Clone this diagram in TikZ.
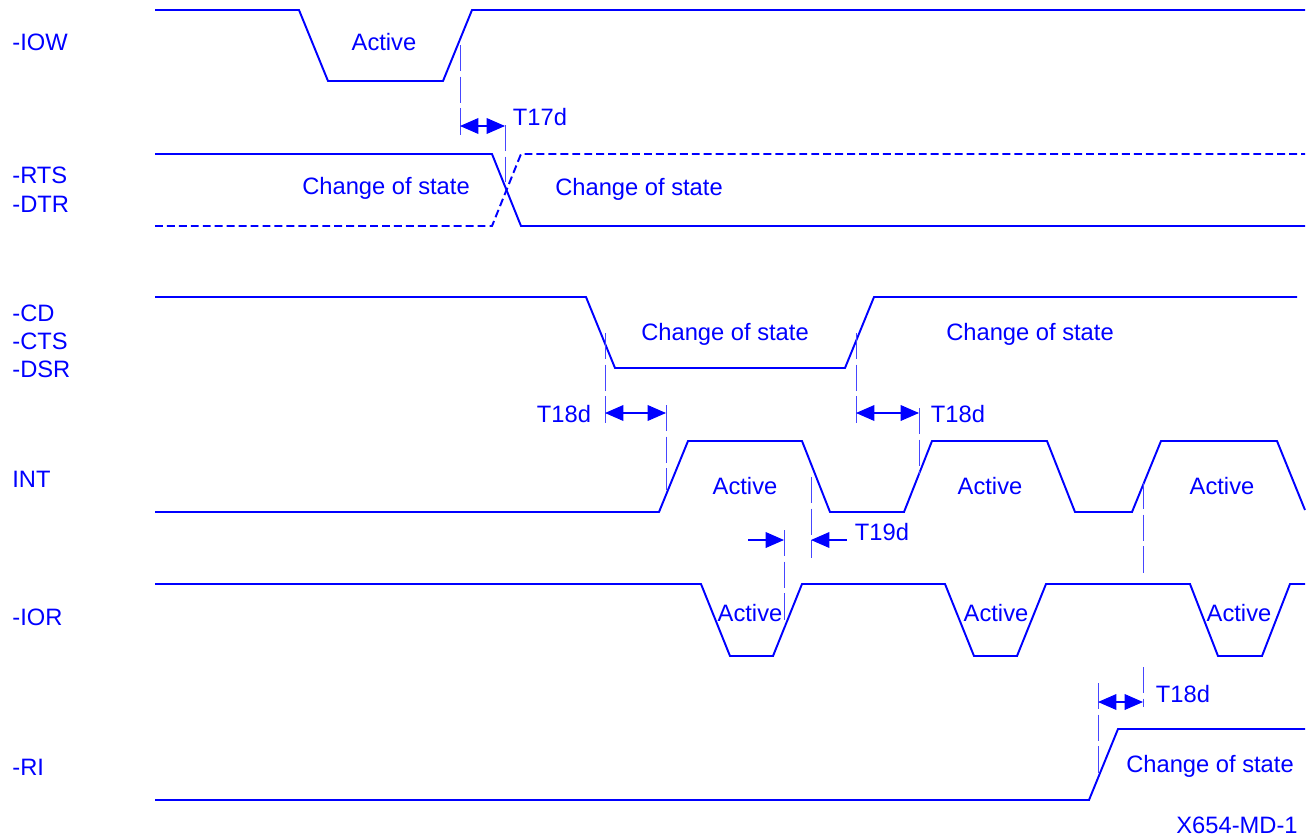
\documentclass[tikz,border=0pt]{standalone}
\usepackage{fontspec}
\setmainfont{Liberation Sans}
\usetikzlibrary{arrows.meta}
\definecolor{wavec}{RGB}{0,0,255}
\definecolor{guidec}{RGB}{70,70,255}
\begin{document}
\begin{tikzpicture}[x=0.02cm,y=-0.02cm,
  wave/.style={draw=wavec,line width=1.1pt,line join=miter},
  wavedash/.style={wave,dash pattern=on 4.5pt off 2.3pt},
  guide/.style={draw=guidec,line width=0.5pt,dash pattern=on 15pt off 3pt},
  dimline/.style={draw=wavec,line width=0.6pt},
  twotip/.style={dimline,{Triangle[length=10.5pt,width=9pt]}-{Triangle[length=10.5pt,width=9pt]}},
  onetip/.style={dimline,-{Triangle[length=10.5pt,width=9pt]}},
  lbl/.style={text=wavec,font=\fontsize{13.5}{16}\selectfont,inner sep=0pt,anchor=base},
  sname/.style={lbl,anchor=base west}]
\path[fill=white] (0,0) rectangle (1309,839);

% signal names
\node[sname] (nIOW) at (12,50) {-IOW};
\node[sname] (nRTS) at (12,183) {-RTS};
\node[sname] (nDTR) at (12,212) {-DTR};
\node[sname] (nCD) at (12,321) {-CD};
\node[sname] (nCTS) at (12,349) {-CTS};
\node[sname] (nDSR) at (12,377) {-DSR};
\node[sname] (nINT) at (12,487) {INT};
\node[sname] (nIOR) at (12,625) {-IOR};
\node[sname] (nRI) at (12,775) {-RI};

% waveforms
\draw[wave] (155,10) -- (299,10) -- (328,81) -- (443,81) -- (472,10) -- (1305,10);
\draw[wave] (155,154) -- (492,154) -- (521,226) -- (1305,226);
\draw[wavedash] (155,226) -- (492,226) -- (521,154) -- (1305,154);
\draw[wave] (155,297) -- (586,297) -- (615,368) -- (845,368) -- (874,297) -- (1297,297);
\draw[wave] (155,512) -- (659,512) -- (688,441) -- (802,441) -- (830,512) -- (904,512)
  -- (932,441) -- (1047,441) -- (1075,512) -- (1132,512) -- (1161,441) -- (1277,441) -- (1305,510);
\draw[wave] (155,584) -- (701,584) -- (730,656) -- (773,656) -- (802,584) -- (945,584)
  -- (974,656) -- (1017,656) -- (1046,584) -- (1190,584) -- (1218,656) -- (1262,656)
  -- (1290,584) -- (1305,584);
\draw[wave] (155,800) -- (1089,800) -- (1118,729) -- (1305,729);

% waveform labels
\node[lbl] (aIOW) at (384,50) {Active};
\node[lbl] (cRTS1) at (386,194) {Change of state};
\node[lbl] (cRTS2) at (639,195) {Change of state};
\node[lbl] (cCD1) at (725,340) {Change of state};
\node[lbl] (cCD2) at (1030,340) {Change of state};
\node[lbl] (aINT1) at (745,494) {Active};
\node[lbl] (aINT2) at (990,494) {Active};
\node[lbl] (aINT3) at (1222,494) {Active};
\node[lbl] (aIOR1) at (750,621) {Active};
\node[lbl] (aIOR2) at (996,621) {Active};
\node[lbl] (aIOR3) at (1239,621) {Active};
\node[lbl] (cRI) at (1210,772) {Change of state};
\node[lbl] (fig) at (1237,833) {X654-MD-1};

% timing labels
\node[lbl] (t17) at (540,125) {T17d};
\node[lbl] (t18a) at (564,422) {T18d};
\node[lbl] (t18b) at (958,422) {T18d};
\node[lbl] (t19) at (882,540) {T19d};
\node[lbl] (t18c) at (1183,702) {T18d};

% guide lines
\draw[guide] (460,45) -- (460,136);
\draw[guide] (505,125) -- (505,182);
\draw[guide] (605,333) -- (605,424);
\draw[guide] (666,405) -- (666,490);
\draw[guide] (856,333) -- (856,424);
\draw[guide] (919,408) -- (919,474);
\draw[guide] (811,477) -- (811,558);
\draw[guide] (784,530) -- (784,626);
\draw[guide] (1143,483) -- (1143,577);
\draw[guide] (1143,667) -- (1143,707);
\draw[guide] (1098,683) -- (1098,777);

% dimension arrows
\coordinate (d17a) at (460,126);
\coordinate (d17b) at (505,126);
\draw[twotip] (d17a) -- (d17b);
\coordinate (d18aa) at (605,413);
\coordinate (d18ab) at (666,413);
\draw[twotip] (d18aa) -- (d18ab);
\coordinate (d18ba) at (856,413);
\coordinate (d18bb) at (919,413);
\draw[twotip] (d18ba) -- (d18bb);
\coordinate (d19a0) at (748,540);
\coordinate (d19a1) at (784,540);
\draw[onetip] (d19a0) -- (d19a1);
\coordinate (d19b0) at (847,540);
\coordinate (d19b1) at (811,540);
\draw[onetip] (d19b0) -- (d19b1);
\coordinate (d18ca) at (1098,702);
\coordinate (d18cb) at (1143,702);
\draw[twotip] (d18ca) -- (d18cb);
\end{tikzpicture}
\end{document}
